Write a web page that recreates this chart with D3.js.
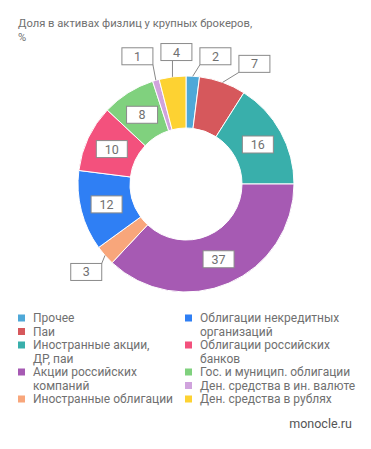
<!DOCTYPE html>
<html>
<head>
<meta charset="utf-8">
<title>Доля в активах физлиц</title>
<script src="https://cdn.jsdelivr.net/npm/d3@7"></script>
<style>
  body { margin: 0; background: #fff; }
  text { font-family: Roboto, "Noto Sans", sans-serif; fill: #707070; }
</style>
</head>
<body>
<script>
// data
var categories = ["Прочее", "Паи", "Иностранные акции,\nДР, паи", "Акции российских\nкомпаний",
  "Иностранные облигации", "Облигации некредитных\nорганизаций", "Облигации российских\nбанков",
  "Гос. и муницип. облигации", "Ден. средства в ин. валюте", "Ден. средства в рублях"];
var values = [2, 7, 16, 37, 3, 12, 10, 8, 1, 4];
var colors = ["#4ea8d8", "#d6585c", "#39afab", "#a65ab3", "#f8a67b",
  "#2f7ff4", "#f3517d", "#80d17e", "#d0a3dd", "#fdd232"];
var title = ["Доля в активах физлиц у крупных брокеров,", "%"];

var W = 371, H = 449;
var cx = 186, cy = 184, rOut = 108, rIn = 56;

var svg = d3.select("body").append("svg")
    .attr("width", W).attr("height", H);

svg.selectAll(".title")
    .data(title)
    .enter().append("text")
    .attr("x", 18)
    .attr("y", function(d, i) { return 27 + i * 13.5; })
    .style("font-size", "11.2px")
    .text(function(d) { return d; });

var data = categories.map(function(c, i) { return {name: c, value: values[i], color: colors[i]}; });

var pie = d3.pie().sort(null).value(function(d) { return d.value; });
var arc = d3.arc().innerRadius(rIn).outerRadius(rOut);
var arcs = pie(data);

var g = svg.append("g").attr("transform", "translate(" + cx + "," + cy + ")");

g.selectAll(".slice")
    .data(arcs)
    .enter().append("path")
    .attr("class", "slice")
    .attr("d", arc)
    .attr("fill", function(d) { return d.data.color; })
    .attr("stroke", "#fff")
    .attr("stroke-width", 1);

// labels
var bw = 31, bh = 17;
var labels = arcs.map(function(d) {
    var a = (d.startAngle + d.endAngle) / 2;
    var inside = d.data.value >= 8;
    var x, y;
    if (inside) {
        var c = arc.centroid(d);
        x = c[0]; y = c[1];
    } else {
        x = 133 * Math.sin(a) + (Math.sin(a) > 0 ? 20 : 0);
        y = -133 * Math.cos(a) + (Math.sin(a) > 0 ? 5 : 0);
    }
    return {d: d, a: a, inside: inside, x: x, y: y};
});

// push overlapping outside labels apart horizontally
var outside = labels.filter(function(l) { return !l.inside; });
for (var it = 0; it < 20; it++) {
    outside.forEach(function(p) {
        outside.forEach(function(q) {
            if (p === q || p.x > q.x) return;
            var dx = q.x - p.x, dy = Math.abs(q.y - p.y);
            if (dy < bh && dx < bw + 8) {
                var push = (bw + 8 - dx) / 2;
                p.x -= push; q.x += push;
            }
        });
    });
}

outside.forEach(function(l) {
    var sx = rOut * Math.sin(l.a), sy = -rOut * Math.cos(l.a);
    var ex = Math.max(l.x - bw / 2, Math.min(sx, l.x + bw / 2));
    var ey = Math.max(l.y - bh / 2, Math.min(sy, l.y + bh / 2));
    g.append("line")
        .attr("x1", sx).attr("y1", sy)
        .attr("x2", ex).attr("y2", ey)
        .attr("stroke", "#888").attr("stroke-width", 1);
});

var lab = g.selectAll(".lab")
    .data(labels)
    .enter().append("g")
    .attr("class", "lab")
    .attr("transform", function(l) { return "translate(" + l.x + "," + l.y + ")"; });

lab.append("rect")
    .attr("x", -bw / 2).attr("y", -bh / 2)
    .attr("width", bw).attr("height", bh)
    .attr("fill", "#fff")
    .attr("stroke", "#8a8a8a")
    .attr("stroke-width", 1);

lab.append("text")
    .attr("text-anchor", "middle")
    .attr("dy", "0.36em")
    .style("font-size", "12.5px")
    .text(function(l) { return l.d.data.value; });

// legend
var lineH = 13.5;
var cols = [{x: 18, items: data.slice(0, 5)}, {x: 185, items: data.slice(5)}];
cols.forEach(function(col) {
    var y = 318;
    col.items.forEach(function(d) {
        var lines = d.name.split("\n");
        svg.append("rect")
            .attr("x", col.x).attr("y", y - 3.5)
            .attr("width", 7).attr("height", 7)
            .attr("fill", d.color);
        var t = svg.append("text")
            .attr("x", col.x + 15)
            .attr("y", y + 4)
            .style("font-size", "12px");
        lines.forEach(function(s, i) {
            t.append("tspan")
                .attr("x", col.x + 15)
                .attr("dy", i === 0 ? 0 : lineH)
                .text(s);
        });
        y += lines.length * lineH;
    });
});

svg.append("text")
    .attr("x", 352)
    .attr("y", 428)
    .attr("text-anchor", "end")
    .style("font-size", "12.5px")
    .style("fill", "#555")
    .text("monocle.ru");
</script>
</body>
</html>
